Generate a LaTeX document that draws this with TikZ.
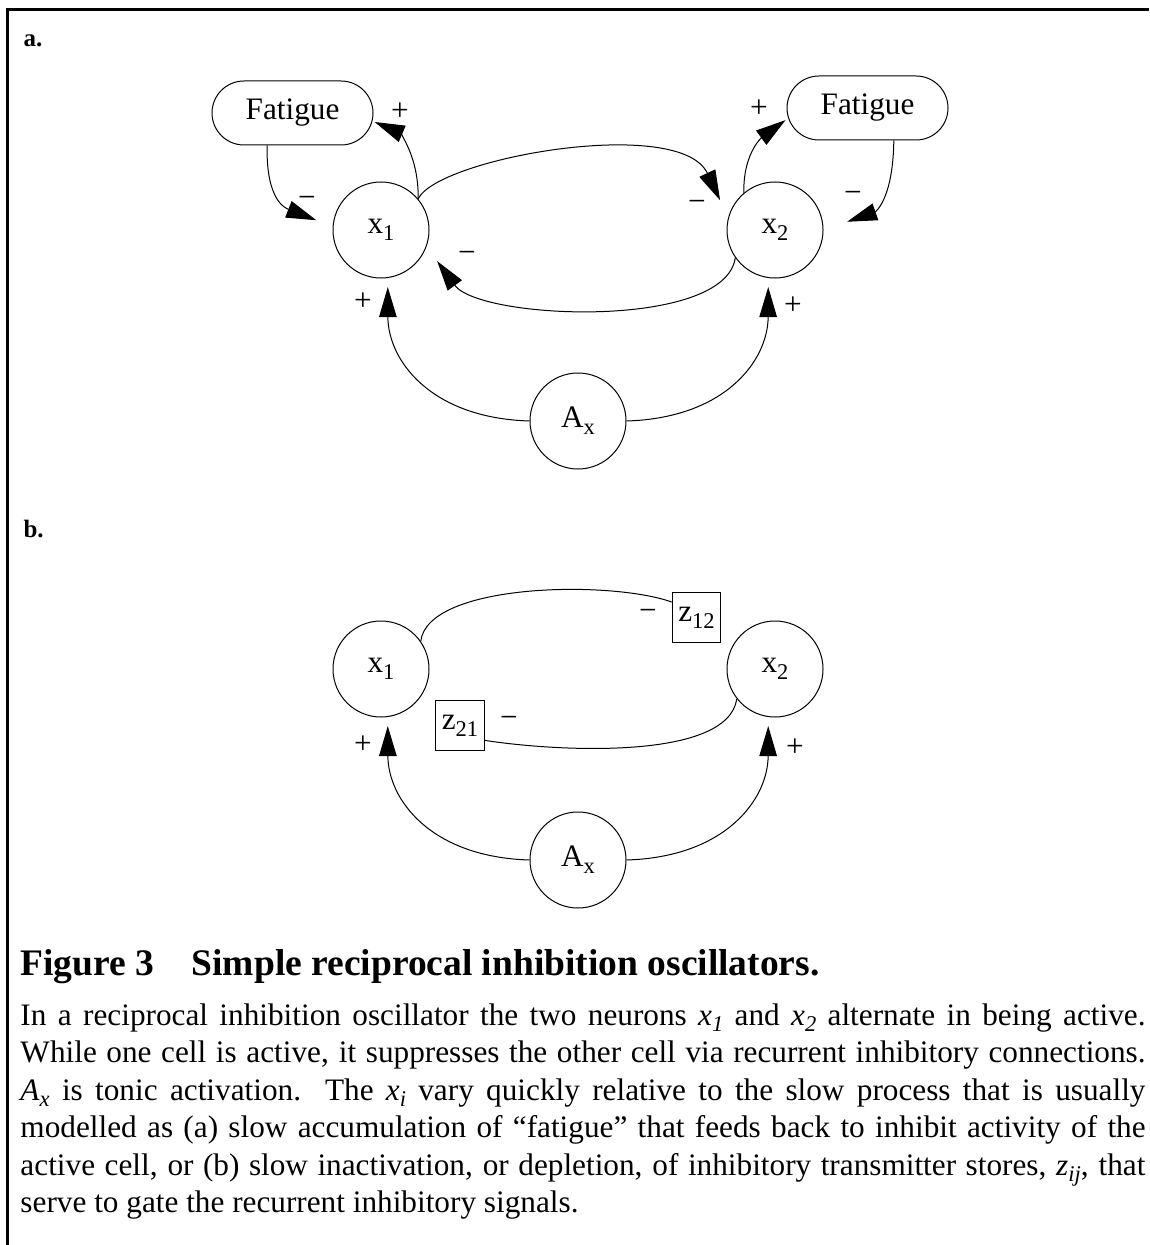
\documentclass[tikz,border=0pt]{standalone}
\usepackage{fontspec}
\setmainfont{Liberation Serif}
\usepackage{tikz}
\usetikzlibrary{arrows.meta}

\newcommand{\lsub}[2]{#1\raisebox{-2.7pt}{\fontsize{9}{9}\selectfont #2}}
\newcommand{\isub}[2]{\textit{#1}\raisebox{-2.5pt}{\fontsize{9}{9}\selectfont\itshape #2}}

\begin{document}
\begin{tikzpicture}[x=0.4pt,y=-0.4pt,>={Triangle[length=12pt,width=7pt]},
  font=\fontsize{12.5}{15}\selectfont,
  cell/.style={draw,circle,minimum size=38.4pt,inner sep=0pt},
  fat/.style={draw,rectangle,rounded corners=12.8pt,minimum width=64.4pt,minimum height=25.6pt,inner sep=0pt},
  store/.style={draw,rectangle,minimum width=19.4pt,minimum height=19.8pt,inner sep=0pt},
  sgn/.style={inner sep=0pt}]
\useasboundingbox (0,0) rectangle (1149,1245);
\draw[line width=1.2pt] (1149,10) -- (7,10) -- (7,1245);

% panel a: fatigue
\node[anchor=base west,font=\bfseries,inner sep=0pt] (la) at (23,47) {a.};
\node[fat] (fatL) at (292.5,113) {Fatigue};
\node[fat] (fatR) at (867.5,108) {Fatigue};
\node[cell] (x1) at (381,230) {\lsub{x}{1}};
\node[cell] (x2) at (775,230) {\lsub{x}{2}};
\node[cell] (Ax) at (578,421) {\lsub{A}{x}};
\draw[->,shorten >=7pt] (fatL.232) .. controls (266,200) and (285,208) .. (x1.176);
\draw[->,shorten >=0.5pt] (x1.40) .. controls (419,155) and (398,132) .. (fatL.-6);
\draw[->,shorten >=7.6pt] (x1.40) .. controls (438,158) and (680,115) .. (x2.165);
\draw[->,shorten >=7.2pt] (x2.215) .. controls (725,330) and (480,320) .. (x1.-20);
\draw[->,shorten >=10pt] (fatR.-51) .. controls (893,200) and (875,212) .. (x2.east);
\draw[->,shorten >=0.5pt] (x2.130) .. controls (743,150) and (765,135) .. (fatR.188);
\draw[->,shorten >=3.6pt] (Ax.west) .. controls (430,418) and (388,360) .. (x1.-82);
\draw[->,shorten >=3.6pt] (Ax.east) .. controls (726,418) and (768,360) .. (x2.-98);
\node[sgn] (pa1) at (400,112) {+};
\node[sgn] (ma1) at (307,202) {−};
\node[sgn] (ma2) at (697,206) {−};
\node[sgn] (ma3) at (467,257) {−};
\node[sgn] (pa2) at (759,109) {+};
\node[sgn] (ma4) at (853,197) {−};
\node[sgn] (pa3) at (363,302) {+};
\node[sgn] (pa4) at (793,306) {+};

% panel b: transmitter stores
\node[anchor=base west,font=\bfseries,inner sep=0pt] (lb) at (23,537) {b.};
\node[cell] (x1b) at (381,669) {\lsub{x}{1}};
\node[cell] (x2b) at (775,669) {\lsub{x}{2}};
\node[cell] (Axb) at (578,860) {\lsub{A}{x}};
\node[store] (z12) at (696.5,617.5) {\lsub{z}{12}};
\node[store] (z21) at (460,725.5) {\lsub{z}{21}};
\draw (x1b.35) .. controls (428,583) and (610,580) .. (z12.148);
\draw (x2b.218) .. controls (728,760) and (560,752) .. (z21.-31);
\draw[->,shorten >=3.6pt] (Axb.west) .. controls (430,857) and (388,799) .. (x1b.-82);
\draw[->,shorten >=3.6pt] (Axb.east) .. controls (726,857) and (768,799) .. (x2b.-98);
\node[sgn] (mb1) at (648,615) {−};
\node[sgn] (mb2) at (509,722) {−};
\node[sgn] (pb1) at (363,745) {+};
\node[sgn] (pb2) at (795,748) {+};

% caption
\node[anchor=base west,font=\fontsize{15}{18}\selectfont\bfseries,inner sep=0pt] (ttl) at (20,975)
  {Figure 3\hspace{15pt}Simple reciprocal inhibition oscillators.};
\node[anchor=north west,text width=450pt,align=justify,inner sep=0pt] (cap) at (20,1003)
  {In a reciprocal inhibition oscillator the two neurons \isub{x}{1} and \isub{x}{2} alternate in being active.\linebreak
   While one cell is active, it suppresses the other cell via recurrent inhibitory connections.\linebreak
   \isub{A}{x} is tonic activation. The \isub{x}{i} vary quickly relative to the slow process that is usually\linebreak
   modelled as (a) slow accumulation of “fatigue” that feeds back to inhibit activity of the\linebreak
   active cell, or (b) slow inactivation, or depletion, of inhibitory transmitter stores, \isub{z}{ij}, that\linebreak
   serve to gate the recurrent inhibitory signals.};
\end{tikzpicture}
\end{document}
